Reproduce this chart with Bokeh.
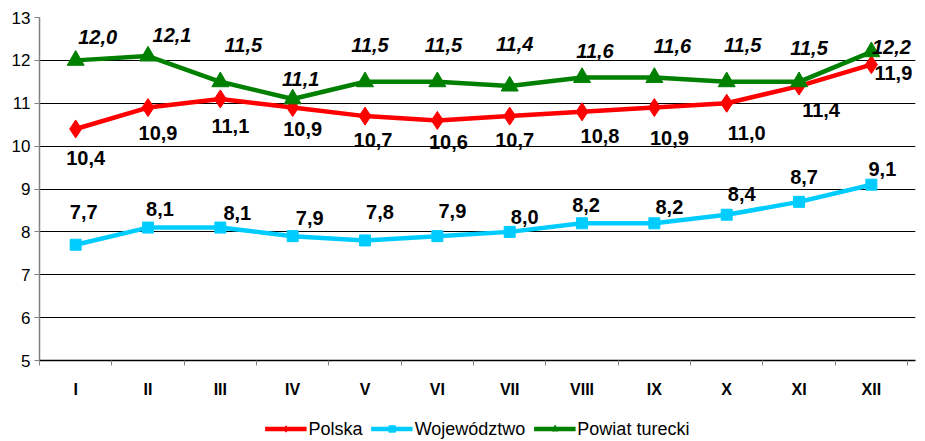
from bokeh.plotting import figure
from bokeh.layouts import column
from bokeh.models import ColumnDataSource, FixedTicker, Legend, LegendItem, Range1d
from bokeh.core.properties import value
from bokeh.embed import file_html
from bokeh.resources import INLINE

months = ["I", "II", "III", "IV", "V", "VI", "VII", "VIII", "IX", "X", "XI", "XII"]
polska = [10.4, 10.9, 11.1, 10.9, 10.7, 10.6, 10.7, 10.8, 10.9, 11.0, 11.4, 11.9]
wojewodztwo = [7.7, 8.1, 8.1, 7.9, 7.8, 7.9, 8.0, 8.2, 8.2, 8.4, 8.7, 9.1]
powiat = [12.0, 12.1, 11.5, 11.1, 11.5, 11.5, 11.4, 11.6, 11.6, 11.5, 11.5, 12.2]
y_ticks = [5, 6, 7, 8, 9, 10, 11, 12, 13]

# data-label offsets in screen pixels (+x right, +y down)
polska_dx = [10, 10, 10, 10, 8, 11, 5, 18, 15, 20, 22, 22]
polska_dy = [29, 25, 27, 21, 24, 22, 24, 24, 30, 30, 24, 8]
woj_dx = [8, 12, 17, 17, 15, 15, 15, 4, 15, 15, 5, 11]
woj_dy = [-33, -19, -15, -18, -28, -25, -15, -18, -16, -21, -25, -16]
powiat_dx = [22, 24, 23, 8, 5, 6, 5, 13, 18, 16, 10, 20]
powiat_dy = [-23, -21, -37, -20, -37, -37, -42, -27, -32, -37, -34, -5]

FONT = "Liberation Sans"
xs = list(range(1, len(months) + 1))
X_PAD = 0.11  # a little room right of the last category so its labels are not clipped


def fmt(v):
    return f"{v:.1f}".replace(".", ",")


p = figure(width=925, height=416, x_range=(0.5, len(months) + 0.5 + X_PAD), y_range=(5, 13),
           output_backend="svg", toolbar_location=None,
           min_border_left=39, min_border_right=2, min_border_top=17, min_border_bottom=56)
p.outline_line_color = None
p.background_fill_color = "white"
p.border_fill_color = "white"

# x axis: labels at category centres, tick marks between categories
p.xaxis.ticker = FixedTicker(ticks=xs, minor_ticks=[x - 0.5 for x in xs] + [len(xs) + 0.5])
p.xaxis.major_label_overrides = {x: m for x, m in zip(xs, months)}
p.xaxis.major_tick_out = 0
p.xaxis.major_tick_in = 0
p.xaxis.minor_tick_out = 5
p.xaxis.minor_tick_in = 0
p.xaxis.minor_tick_line_color = "#808080"
p.xaxis.axis_line_color = "black"
p.xaxis.axis_line_width = 1.5
p.xaxis.major_label_text_font = FONT
p.xaxis.major_label_text_font_style = "bold"
p.xaxis.major_label_text_font_size = "16px"
p.xaxis.major_label_text_color = "black"
p.xaxis.major_label_standoff = 15

p.yaxis.ticker = FixedTicker(ticks=y_ticks)
p.yaxis.minor_tick_line_color = None
p.yaxis.major_tick_out = 5
p.yaxis.major_tick_in = 0
p.yaxis.major_tick_line_color = "#808080"
p.yaxis.axis_line_color = "#808080"
p.yaxis.axis_line_width = 1.5
p.yaxis.major_label_text_font = FONT
p.yaxis.major_label_text_font_size = "17px"
p.yaxis.major_label_text_color = "black"
p.yaxis.major_label_standoff = 4

p.xgrid.grid_line_color = None
p.ygrid.grid_line_color = "black"
p.ygrid.grid_line_width = 1

# separate strip underneath for the legend; its y range lies away from the data,
# so the legend's own renderers draw nothing inside the strip
leg = figure(width=925, height=25, x_range=Range1d(0.5, len(months) + 0.5), y_range=Range1d(0, 1),
             output_backend="svg", toolbar_location=None,
             x_axis_location=None, y_axis_location=None,
             min_border_left=39, min_border_right=10, min_border_top=0, min_border_bottom=0)
leg.outline_line_color = None
leg.grid.visible = False

series = [
    ("Polska", polska, "#FF0000", "diamond", 18, polska_dx, polska_dy, "bold"),
    ("Województwo", wojewodztwo, "#00CCFF", "square", 11, woj_dx, woj_dy, "bold"),
    ("Powiat turecki", powiat, "#008000", "triangle", 17, powiat_dx, powiat_dy, "bold italic"),
]

items = []
for name, vals, color, marker, size, dx, dy, style in series:
    src = ColumnDataSource(dict(x=xs, y=vals, lab=[fmt(v) for v in vals], dx=dx, dy=dy))
    p.line("x", "y", source=src, line_color=color, line_width=4.5)
    p.scatter("x", "y", source=src, marker=marker, size=size,
              fill_color=color, line_color=color)
    p.text("x", "y", text="lab", source=src, x_offset="dx", y_offset="dy",
           text_font=value(FONT), text_font_style=value(style), text_font_size="20px",
           text_color="black", text_align="center", text_baseline="middle")
    l1 = leg.line("x", "y", source=src, line_color=color, line_width=4.5)
    l2 = leg.scatter("x", "y", source=src, marker=marker, size=size,
                     fill_color=color, line_color=color)
    items.append(LegendItem(label=name, renderers=[l1, l2]))

legend = Legend(items=items, orientation="horizontal", location="center",
                glyph_width=42, glyph_height=16, label_standoff=2, spacing=8,
                padding=0, margin=0, border_line_color=None, background_fill_alpha=0,
                label_text_font=FONT, label_text_font_size="18px", label_text_color="black")
leg.add_layout(legend, "center")

layout = column(p, leg, spacing=0)
open("out.html", "w").write(file_html(layout, INLINE))
